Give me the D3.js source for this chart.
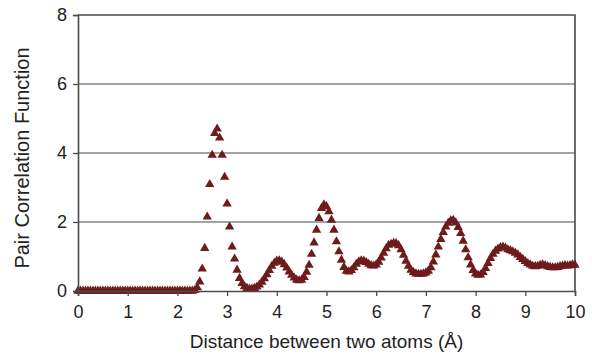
<!DOCTYPE html>
<html>
<head>
<meta charset="utf-8">
<script src="https://cdn.jsdelivr.net/npm/d3@7"></script>
<style>
  html, body { margin: 0; padding: 0; background: #fff; }
  svg text { font-family: "Liberation Sans", Arial, sans-serif; fill: #222; }
</style>
</head>
<body>
<svg id="chart" width="592" height="355"></svg>
<script>
// Sampled pair correlation g(r), step 0.05 Å from 0 to 10 Å
const rStart = 0;
const rStep = 0.05;
const gValues = [
  // 0.00 – 2.35
  0,0,0,0,0,0,0,0,0,0, 0,0,0,0,0,0,0,0,0,0,
  0,0,0,0,0,0,0,0,0,0, 0,0,0,0,0,0,0,0,0,0,
  0,0,0,0,0,0,0,0.02,
  // 2.40 – 3.35
  0.10,0.27,0.64,1.24,2.15,3.09,3.94,4.57,4.70,4.44,
  3.94,3.30,2.53,1.86,1.28,0.93,0.61,0.37,0.22,0.13,
  // 3.40 – 4.35
  0.08,0.06,0.06,0.08,0.12,0.18,0.26,0.36,0.48,0.60,
  0.72,0.81,0.87,0.88,0.84,0.77,0.67,0.56,0.46,0.38,
  // 4.40 – 5.35
  0.32,0.30,0.32,0.40,0.55,0.75,1.07,1.40,1.77,2.11,
  2.40,2.50,2.45,2.30,2.06,1.77,1.43,1.14,0.90,0.69,
  // 5.40 – 6.35
  0.58,0.56,0.60,0.68,0.78,0.85,0.88,0.87,0.83,0.78,
  0.74,0.73,0.76,0.84,0.96,1.10,1.23,1.33,1.36,1.39,
  // 6.40 – 7.35
  1.38,1.32,1.20,1.04,0.87,0.72,0.61,0.54,0.50,0.49,
  0.49,0.50,0.53,0.58,0.68,0.85,1.05,1.28,1.50,1.70,
  // 7.40 – 8.35
  1.86,1.97,2.04,2.05,1.98,1.85,1.67,1.45,1.20,0.97,
  0.76,0.60,0.50,0.46,0.47,0.54,0.66,0.80,0.95,1.07,
  // 8.40 – 9.35
  1.16,1.22,1.26,1.28,1.25,1.20,1.17,1.14,1.10,1.05,
  0.98,0.92,0.86,0.80,0.76,0.72,0.71,0.72,0.75,0.76,
  // 9.40 – 10.00
  0.74,0.71,0.69,0.68,0.68,0.69,0.71,0.73,0.74,0.73,
  0.74,0.76,0.75
];
const xTicks = [0,1,2,3,4,5,6,7,8,9,10];
const yTicks = [0,2,4,6,8];
const xTitle = "Distance between two atoms (Å)";
const yTitle = "Pair Correlation Function";

const points = gValues.map((g, i) => ({ r: +(rStart + i * rStep).toFixed(2), g }));

const W = 592, H = 355;
const m = { left: 78, right: 17, top: 15, bottom: 64 };
const svg = d3.select("#chart");

const x = d3.scaleLinear().domain([0, 10]).range([m.left, W - m.right]);
const y = d3.scaleLinear().domain([0, 8]).range([H - m.bottom, m.top]);

const frameColor = "#4a4a4a";

// horizontal gridlines
svg.append("g")
  .selectAll("line")
  .data(yTicks.filter(v => v > 0 && v < 8))
  .join("line")
  .attr("x1", x(0)).attr("x2", x(10))
  .attr("y1", d => y(d)).attr("y2", d => y(d))
  .attr("stroke", "#858585").attr("stroke-width", 1.3);

// frame: top and right edges
svg.append("path")
  .attr("d", `M${x(0)},${y(8)}H${x(10)}V${y(0)}`)
  .attr("fill", "none").attr("stroke", frameColor).attr("stroke-width", 1.6);

// data markers
const tri = d3.symbol().type(d3.symbolTriangle).size(38);
svg.append("g")
  .selectAll("path")
  .data(points)
  .join("path")
  .attr("d", tri)
  .attr("transform", d => `translate(${x(d.r)},${y(d.g)})`)
  .attr("fill", "#6e1b1b");

// axes
const xAxis = svg.append("g")
  .attr("transform", `translate(0,${y(0)})`)
  .call(d3.axisBottom(x).tickValues(xTicks).tickFormat(d3.format("d")).tickSize(5).tickPadding(9));
const yAxis = svg.append("g")
  .attr("transform", `translate(${x(0)},0)`)
  .call(d3.axisLeft(y).tickValues(yTicks).tickFormat(d3.format("d")).tickSize(5).tickPadding(6));

[xAxis, yAxis].forEach(a => {
  a.select(".domain").attr("stroke", frameColor).attr("stroke-width", 1.6);
  a.selectAll(".tick line").attr("stroke", frameColor).attr("stroke-width", 1.3);
  a.selectAll(".tick text").attr("font-size", 18).attr("fill", "#222")
    .attr("font-family", "'Liberation Sans', Arial, sans-serif");
});

// axis titles
svg.append("text")
  .attr("x", (x(0) + x(10)) / 2).attr("y", 348)
  .attr("text-anchor", "middle").attr("font-size", 19)
  .text(xTitle);

svg.append("text")
  .attr("transform", `translate(29,158) rotate(-90)`)
  .attr("text-anchor", "middle").attr("font-size", 20)
  .text(yTitle);
</script>
</body>
</html>
